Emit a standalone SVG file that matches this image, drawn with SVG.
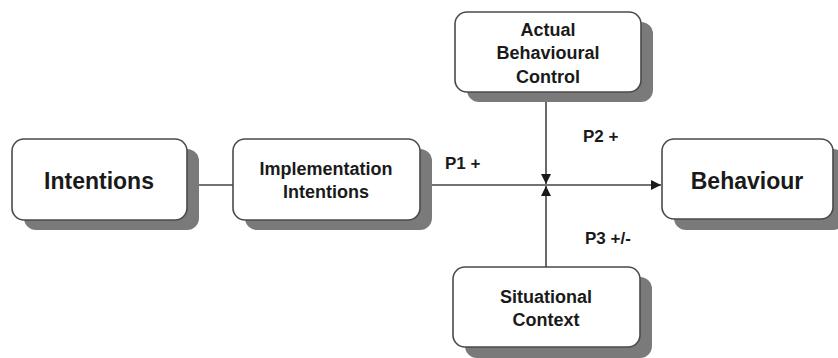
<svg xmlns="http://www.w3.org/2000/svg" width="838" height="358" viewBox="0 0 838 358">
  <defs>
    <style>
      .shadow { fill: #7a7a7a; }
      .box { fill: #ffffff; stroke: #4a4a4a; stroke-width: 1.6; }
      .big { font-family: "Liberation Sans", Arial, sans-serif; font-weight: bold; font-size: 23px; fill: #1a1a1a; text-anchor: middle; }
      .mid { font-family: "Liberation Sans", Arial, sans-serif; font-weight: bold; font-size: 18px; fill: #1a1a1a; text-anchor: middle; }
      .lbl { font-family: "Liberation Sans", Arial, sans-serif; font-weight: bold; font-size: 17px; fill: #1a1a1a; }
      .line { stroke: #444444; stroke-width: 1.6; fill: none; }
    </style>
    <marker id="arrow" viewBox="0 0 10 10" refX="10" refY="5" markerWidth="10" markerHeight="10" markerUnits="userSpaceOnUse" orient="auto">
      <path d="M0,0 L10,5 L0,10 z" fill="#1a1a1a"/>
    </marker>
  </defs>
  <rect width="838" height="358" fill="#ffffff"/>

  <g id="connectors">
    <line class="line" x1="187" y1="185" x2="233" y2="185"/>
    <line class="line" x1="420" y1="185" x2="661" y2="185" marker-end="url(#arrow)"/>
    <line class="line" x1="546" y1="92" x2="546" y2="184" marker-end="url(#arrow)"/>
    <line class="line" x1="546" y1="267" x2="546" y2="186" marker-end="url(#arrow)"/>
    <text class="lbl" x="445" y="169">P1 +</text>
    <text class="lbl" x="583" y="142">P2 +</text>
    <text class="lbl" x="585" y="244">P3 +/-</text>
  </g>

  <g id="intentions">
    <rect class="shadow" x="24" y="149" width="175" height="81" rx="12"/>
    <rect class="box" x="12" y="139" width="175" height="81" rx="12"/>
    <text class="big" x="99" y="189">Intentions</text>
  </g>

  <g id="implementation-intentions">
    <rect class="shadow" x="245" y="149" width="187" height="81" rx="12"/>
    <rect class="box" x="233" y="139" width="187" height="81" rx="12"/>
    <text class="mid" x="326" y="175">Implementation</text>
    <text class="mid" x="326" y="198">Intentions</text>
  </g>

  <g id="actual-behavioural-control">
    <rect class="shadow" x="467" y="22" width="186" height="80" rx="12"/>
    <rect class="box" x="455" y="12" width="186" height="80" rx="12"/>
    <text class="mid" x="548" y="36">Actual</text>
    <text class="mid" x="548" y="59">Behavioural</text>
    <text class="mid" x="548" y="83">Control</text>
  </g>

  <g id="behaviour">
    <rect class="shadow" x="674" y="149" width="171" height="81" rx="12"/>
    <rect class="box" x="662" y="139" width="171" height="80" rx="12"/>
    <text class="big" x="747" y="189">Behaviour</text>
  </g>

  <g id="situational-context">
    <rect class="shadow" x="465" y="277" width="187" height="81" rx="12"/>
    <rect class="box" x="453" y="267" width="187" height="80" rx="12"/>
    <text class="mid" x="546" y="303">Situational</text>
    <text class="mid" x="546" y="326">Context</text>
  </g>
</svg>
